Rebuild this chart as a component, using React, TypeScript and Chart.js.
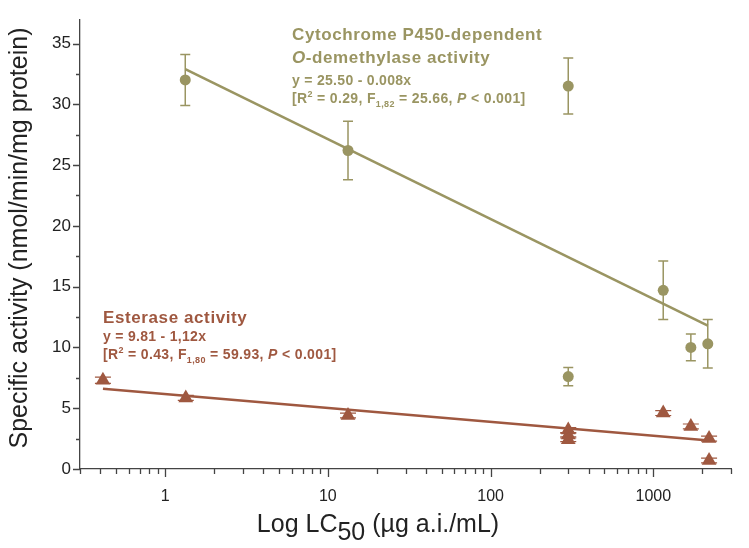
import React, { useEffect, useRef } from 'react';
import { Chart, registerables } from 'chart.js';

Chart.register(...registerables);

const OLIVE = '#9a9562';
const BROWN = '#9f5840';
const AXIS = '#444444';
const FONT = '"Liberation Sans", Arial, sans-serif';

// Cytochrome P450-dependent O-demethylase activity
const p450X = [1.33, 13.3, 300, 300, 1150, 1700, 2160];
const p450Y = [32.0, 26.2, 31.5, 7.6, 14.7, 10.0, 10.3];
const p450Err = [2.1, 2.4, 2.3, 0.75, 2.4, 1.1, 2.0];

// Esterase activity
const estX = [0.415, 1.34, 13.3, 300, 300, 300, 1150, 1700, 2200, 2200];
const estY = [7.3, 5.85, 4.4, 3.2, 2.8, 2.4, 4.6, 3.5, 2.5, 0.7];
const estErr = [0.25, 0.2, 0.2, 0.2, 0.15, 0.15, 0.2, 0.2, 0.2, 0.2];

// Regression lines (end points)
const p450FitX = [1.33, 2160];
const p450FitY = [32.9, 11.8];
const estFitX = [0.415, 2200];
const estFitY = [6.6, 2.35];

// Axes
const xMin = 0.3;
const xMax = 3000;
const yMin = 0;
const yMax = 37;
const xTickValues = [
  0.3, 0.4, 0.5, 0.6, 0.7, 0.8, 0.9,
  1, 2, 3, 4, 5, 6, 7, 8, 9,
  10, 20, 30, 40, 50, 60, 70, 80, 90,
  100, 200, 300, 400, 500, 600, 700, 800, 900,
  1000, 2000, 3000,
];
const xMajorValues = [1, 10, 100, 1000];
const xTickLabels = ['1', '10', '100', '1000'];
const yTickValues = [0, 2.5, 5, 7.5, 10, 12.5, 15, 17.5, 20, 22.5, 25, 27.5, 30, 32.5, 35];
const yLabelValues = [0, 5, 10, 15, 20, 25, 30, 35];

type Run = { t: string; size: number; italic?: boolean; bold?: boolean; dy?: number };

function fontOf(r: Run) {
  return `${r.italic ? 'italic ' : ''}${r.bold === false ? '' : 'bold '}${r.size}px ${FONT}`;
}

function drawRuns(ctx: CanvasRenderingContext2D, x: number, y: number, runs: Run[], color: string, spacing = 0) {
  let cx = x;
  ctx.save();
  ctx.fillStyle = color;
  ctx.textBaseline = 'alphabetic';
  ctx.textAlign = 'left';
  (ctx as any).letterSpacing = spacing + 'px';
  for (const r of runs) {
    ctx.font = fontOf(r);
    ctx.fillText(r.t, cx, y + (r.dy || 0));
    cx += ctx.measureText(r.t).width;
  }
  ctx.restore();
}

function runsWidth(ctx: CanvasRenderingContext2D, runs: Run[]) {
  let w = 0;
  ctx.save();
  (ctx as any).letterSpacing = '0px';
  for (const r of runs) {
    ctx.font = fontOf(r);
    w += ctx.measureText(r.t).width;
  }
  ctx.restore();
  return w;
}

const decorPlugin = {
  id: 'decor',
  beforeDatasetsDraw(chart: any) {
    const ctx = chart.ctx as CanvasRenderingContext2D;
    const xs = chart.scales.x;
    const ys = chart.scales.y;
    const bars = (X: number[], Y: number[], E: number[], color: string, cap: number, lw: number) => {
      ctx.save();
      ctx.strokeStyle = color;
      ctx.lineWidth = lw;
      X.forEach((xv, i) => {
        const px = xs.getPixelForValue(xv);
        const top = ys.getPixelForValue(Y[i] + E[i]);
        const bot = ys.getPixelForValue(Y[i] - E[i]);
        ctx.beginPath();
        ctx.moveTo(px, top);
        ctx.lineTo(px, bot);
        ctx.moveTo(px - cap, top);
        ctx.lineTo(px + cap, top);
        ctx.moveTo(px - cap, bot);
        ctx.lineTo(px + cap, bot);
        ctx.stroke();
      });
      ctx.restore();
    };
    bars(p450X, p450Y, p450Err, OLIVE, 5, 1.5);
    bars(estX, estY, estErr, BROWN, 8, 1.2);
  },
  afterDraw(chart: any) {
    const ctx = chart.ctx as CanvasRenderingContext2D;
    const xs = chart.scales.x;
    const ys = chart.scales.y;
    const area = chart.chartArea;
    ctx.save();
    ctx.strokeStyle = AXIS;
    ctx.lineWidth = 1.3;
    ctx.beginPath();
    xTickValues.forEach((v) => {
      const px = Math.round(xs.getPixelForValue(v)) + 0.5;
      const len = xMajorValues.includes(v) ? 8 : 5;
      ctx.moveTo(px, area.bottom);
      ctx.lineTo(px, area.bottom + len);
    });
    yTickValues.forEach((v) => {
      const py = Math.round(ys.getPixelForValue(v)) + 0.5;
      const len = yLabelValues.includes(v) ? 7 : 4;
      ctx.moveTo(area.left - len, py);
      ctx.lineTo(area.left, py);
    });
    ctx.stroke();
    ctx.restore();

    // Axis titles
    const xt: Run[] = [
      { t: 'Log LC', size: 25, bold: false },
      { t: '50', size: 25, bold: false, dy: 8 },
      { t: ' (µg a.i./mL)', size: 25, bold: false },
    ];
    const w = runsWidth(ctx, xt);
    drawRuns(ctx, 378 - w / 2, 532, xt, '#222');

    ctx.save();
    ctx.translate(27, 238);
    ctx.rotate(-Math.PI / 2);
    ctx.font = `25px ${FONT}`;
    ctx.fillStyle = '#222';
    ctx.textAlign = 'center';
    ctx.textBaseline = 'alphabetic';
    ctx.fillText('Specific activity (nmol/min/mg protein)', 0, 0);
    ctx.restore();

    // Annotations
    drawRuns(ctx, 292, 40, [{ t: 'Cytochrome P450-dependent', size: 17 }], OLIVE, 0.6);
    drawRuns(ctx, 292, 63, [
      { t: 'O', size: 17, italic: true },
      { t: '-demethylase activity', size: 17 },
    ], OLIVE, 0.6);
    drawRuns(ctx, 292, 85, [{ t: 'y = 25.50 - 0.008x', size: 14 }], OLIVE, 0.3);
    drawRuns(ctx, 292, 103, [
      { t: '[R', size: 14 },
      { t: '2', size: 9, dy: -6 },
      { t: ' = 0.29, F', size: 14 },
      { t: '1,82', size: 9, dy: 4 },
      { t: ' = 25.66, ', size: 14 },
      { t: 'P', size: 14, italic: true },
      { t: ' < 0.001]', size: 14 },
    ], OLIVE, 0.35);

    drawRuns(ctx, 103, 323, [{ t: 'Esterase activity', size: 17 }], BROWN, 0.6);
    drawRuns(ctx, 103, 341, [{ t: 'y = 9.81 - 1,12x', size: 14 }], BROWN, 0.3);
    drawRuns(ctx, 103, 359, [
      { t: '[R', size: 14 },
      { t: '2', size: 9, dy: -6 },
      { t: ' = 0.43, F', size: 14 },
      { t: '1,80', size: 9, dy: 4 },
      { t: ' = 59.93, ', size: 14 },
      { t: 'P', size: 14, italic: true },
      { t: ' < 0.001]', size: 14 },
    ], BROWN, 0.35);
  },
};

export default function App() {
  const ref = useRef<HTMLCanvasElement | null>(null);
  useEffect(() => {
    if (!ref.current) return;
    const chart = new Chart(ref.current, {
      type: 'scatter',
      data: {
        datasets: [
          {
            label: 'P450 fit',
            data: p450FitX.map((x, i) => ({ x, y: p450FitY[i] })),
            showLine: true,
            borderColor: OLIVE,
            borderWidth: 2.6,
            pointRadius: 0,
          },
          {
            label: 'Esterase fit',
            data: estFitX.map((x, i) => ({ x, y: estFitY[i] })),
            showLine: true,
            borderColor: BROWN,
            borderWidth: 2.6,
            pointRadius: 0,
          },
          {
            label: 'P450',
            data: p450X.map((x, i) => ({ x, y: p450Y[i] })),
            pointStyle: 'circle',
            pointRadius: 5.5,
            backgroundColor: OLIVE,
            borderColor: OLIVE,
            borderWidth: 0,
          },
          {
            label: 'Esterase',
            data: estX.map((x, i) => ({ x, y: estY[i] })),
            pointStyle: 'triangle',
            pointRadius: 8.5,
            backgroundColor: BROWN,
            borderColor: BROWN,
            borderWidth: 0,
          },
        ],
      },
      options: {
        responsive: false,
        animation: false,
        layout: { padding: { top: 1, right: 2, left: 0, bottom: 0 } },
        plugins: { legend: { display: false }, tooltip: { enabled: false } },
        scales: {
          x: {
            type: 'logarithmic',
            min: xMin,
            max: xMax,
            grid: { display: false, drawTicks: false },
            border: { display: true, color: AXIS, width: 1.3 },
            afterBuildTicks: (s: any) => {
              s.ticks = xTickValues.map((v) => ({ value: v }));
            },
            afterFit: (s: any) => {
              s.height = 79;
            },
            ticks: {
              autoSkip: false,
              maxRotation: 0,
              padding: 18,
              color: '#222',
              font: { family: FONT, size: 16 },
              callback: (v: any) => {
                const i = xMajorValues.indexOf(Number(v));
                return i >= 0 ? xTickLabels[i] : '';
              },
            },
          },
          y: {
            type: 'linear',
            min: yMin,
            max: yMax,
            grid: { display: false, drawTicks: false },
            border: { display: true, color: AXIS, width: 1.3 },
            afterBuildTicks: (s: any) => {
              s.ticks = yTickValues.map((v) => ({ value: v }));
            },
            afterFit: (s: any) => {
              s.width = 80;
            },
            ticks: {
              autoSkip: false,
              padding: 9,
              color: '#222',
              font: { family: FONT, size: 17 },
              callback: (v: any) => (yLabelValues.includes(Number(v)) ? String(v) : ''),
            },
          },
        },
      },
      plugins: [decorPlugin],
    } as any);
    return () => chart.destroy();
  }, []);
  return (
    <canvas
      ref={ref}
      width={749}
      height={548}
      style={{ position: 'fixed', left: 0, top: 0, width: 749, height: 548 }}
    />
  );
}
